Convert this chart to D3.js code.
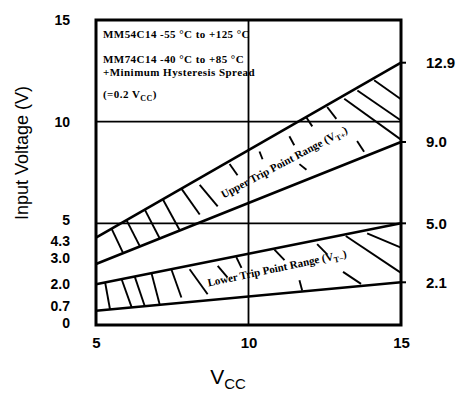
<!DOCTYPE html>
<html>
<head>
<meta charset="utf-8">
<script src="https://cdn.jsdelivr.net/npm/d3@7"></script>
<style>
  html, body { margin: 0; padding: 0; background: #fff; }
  svg { display: block; }
</style>
</head>
<body>
<svg id="chart" width="460" height="394"></svg>
<script>
// Supply voltage at the two ends of each trip-point band
const vcc = [5, 15];
// Upper trip point range V_T+ (max / min)
const upperMax = [4.3, 12.9];
const upperMin = [3.0, 9.0];
// Lower trip point range V_T- (max / min)
const lowerMax = [2.0, 5.0];
const lowerMin = [0.7, 2.1];

const xTicks = [5, 10, 15];
const yTicks = [0, 0.7, 2.0, 3.0, 4.3, 5, 10, 15];
const yTickLabels = ["0", "0.7", "2.0", "3.0", "4.3", "5", "10", "15"];
const rightLabels = [12.9, 9.0, 5.0, 2.1];
const gridX = [10];
const gridY = [5, 10];

// Hatch strokes: [Vcc start, band fraction start, Vcc end, band fraction end]
// band fraction 1 = upper edge of the band, 0 = lower edge
const upperHatch = [
  [5.51, 1, 5.89, 0], [6.0, 1, 6.44, 0], [6.6, 1, 7.09, 0], [7.19, 1, 7.75, 0],
  [7.8, 1, 8.4, 0.18], [8.4, 0.85, 8.99, 0.19], [9.38, 0.94, 9.64, 0.63],
  [10.36, 0.86, 10.46, 0.69], [11.34, 0.84, 11.5, 0.65], [11.67, 0.3, 11.9, 0.16],
  [11.9, 0.99, 12.09, 0.8], [12.58, 0.97, 12.88, 0.72], [13.56, 0.26, 13.79, 0.07],
  [13.14, 0.95, 15, 0.03], [13.57, 0.96, 15, 0.27], [14.12, 0.97, 15, 0.54]
];
const lowerHatch = [
  [5.3, 1, 5.46, 0], [5.84, 1, 6.17, 0], [6.27, 1, 6.6, 0], [6.82, 1, 7.09, 0],
  [7.47, 1, 7.8, 0.15], [8.07, 0.9, 8.66, 0.16], [8.99, 0.85, 9.31, 0.52],
  [9.6, 0.98, 9.77, 0.7], [10.85, 0.98, 11.18, 0.71], [11.67, 0.24, 11.76, 0.02],
  [12.25, 0.92, 12.58, 0.68], [13.1, 0.3, 13.69, 0.04],
  [13.19, 0.97, 15, 0.16], [13.89, 0.94, 15, 0.59]
];

const legendLines = [
  "MM54C14 -55 °C to +125 °C",
  "MM74C14 -40 °C to +85 °C",
  "+Minimum Hysteresis Spread"
];

const svg = d3.select("#chart");
const x = d3.scaleLinear().domain([5, 15]).range([96, 401]);
const y = d3.scaleLinear().domain([0, 15]).range([325, 20]);

const sans = "'Liberation Sans', Arial, sans-serif";
const serif = "'Liberation Serif', 'Times New Roman', serif";

// Grid lines
svg.append("g").selectAll("line").data(gridY).join("line")
  .attr("x1", x(5)).attr("x2", x(15))
  .attr("y1", d => y(d)).attr("y2", d => y(d))
  .attr("stroke", "#000").attr("stroke-width", 1.6);
svg.append("g").selectAll("line").data(gridX).join("line")
  .attr("x1", d => x(d)).attr("x2", d => x(d))
  .attr("y1", y(0)).attr("y2", y(15))
  .attr("stroke", "#000").attr("stroke-width", 1.8);

// Frame
svg.append("rect")
  .attr("x", x(5)).attr("y", y(15))
  .attr("width", x(15) - x(5)).attr("height", y(0) - y(15))
  .attr("fill", "none").attr("stroke", "#000").attr("stroke-width", 3);

// Band boundary lines and hatching
const bands = [
  { top: upperMax, bot: upperMin, hatch: upperHatch },
  { top: lowerMax, bot: lowerMin, hatch: lowerHatch }
];
const line = d3.line().x(d => x(d[0])).y(d => y(d[1]));
bands.forEach(b => {
  [b.top, b.bot].forEach(vals => {
    svg.append("path")
      .attr("d", line(vcc.map((v, i) => [v, vals[i]])))
      .attr("fill", "none").attr("stroke", "#000").attr("stroke-width", 2.6);
  });
  const topAt = d3.scaleLinear().domain(vcc).range(b.top);
  const botAt = d3.scaleLinear().domain(vcc).range(b.bot);
  const pt = (v, t) => [x(v), y(botAt(v) + t * (topAt(v) - botAt(v)))];
  svg.append("g").selectAll("line").data(b.hatch).join("line")
    .attr("x1", d => pt(d[0], d[1])[0]).attr("y1", d => pt(d[0], d[1])[1])
    .attr("x2", d => pt(d[2], d[3])[0]).attr("y2", d => pt(d[2], d[3])[1])
    .attr("stroke", "#000").attr("stroke-width", 1.9);
});

// Short end ticks to the right of the frame
svg.append("g").selectAll("line").data(rightLabels).join("line")
  .attr("x1", x(15)).attr("x2", x(15) + 5)
  .attr("y1", d => y(d)).attr("y2", d => y(d))
  .attr("stroke", "#000").attr("stroke-width", 2);

// Left axis labels (closely spaced ones are nudged apart a little)
const labelShift = { 5: -3, 4.3: 3, 3: -6, 0.7: -5, 0: -2 };
const yAxis = d3.axisLeft(y).tickValues(yTicks).tickSize(0).tickPadding(26)
  .tickFormat((d, i) => yTickLabels[i]);
const gy = svg.append("g").attr("transform", `translate(${x(5)},0)`).call(yAxis);
gy.select(".domain").remove();
gy.selectAll("text").attr("font-family", sans).attr("font-size", 14)
  .attr("font-weight", "bold").attr("fill", "#000")
  .attr("y", d => labelShift[d] || 0);

// Bottom axis labels
const xAxis = d3.axisBottom(x).tickValues(xTicks).tickSize(0).tickPadding(12)
  .tickFormat(d3.format("d"));
const gx = svg.append("g").attr("transform", `translate(0,${y(0)})`).call(xAxis);
gx.select(".domain").remove();
gx.selectAll("text").attr("font-family", sans).attr("font-size", 15)
  .attr("font-weight", "bold").attr("fill", "#000");

// Right-hand end values
svg.append("g").selectAll("text").data(rightLabels).join("text")
  .attr("x", 426).attr("y", d => y(d)).attr("dy", "0.36em")
  .attr("font-family", sans).attr("font-size", 15).attr("font-weight", "bold")
  .text(d => d.toFixed(1));

// Axis titles
svg.append("text")
  .attr("transform", "translate(28,153) rotate(-90)")
  .attr("text-anchor", "middle")
  .attr("font-family", sans).attr("font-size", 18)
  .text("Input Voltage (V)");
const xt = svg.append("text")
  .attr("x", 228).attr("y", 384).attr("text-anchor", "middle")
  .attr("font-family", sans).attr("font-size", 21);
xt.append("tspan").text("V");
xt.append("tspan").attr("font-size", 15).attr("dy", 5).text("CC");

// Notes in the upper left corner
const notes = svg.append("g")
  .attr("font-family", serif).attr("font-size", 11).attr("font-weight", "bold")
  .attr("letter-spacing", 0.45);
notes.selectAll("text").data(legendLines).join("text")
  .attr("x", 103).attr("y", (d, i) => [38, 63, 76][i]).text(d => d);
const n4 = notes.append("text").attr("x", 103).attr("y", 98);
n4.append("tspan").text("(=0.2 V");
n4.append("tspan").attr("font-size", 8).attr("dy", 3).text("CC");
n4.append("tspan").attr("dy", -3).text(")");

// Band captions
function caption(cx, cy, angle, main, sub) {
  const t = svg.append("text")
    .attr("transform", `translate(${cx},${cy}) rotate(${angle})`)
    .attr("text-anchor", "middle").attr("dy", "0.35em")
    .attr("font-family", serif).attr("font-size", 11).attr("font-weight", "bold");
  t.append("tspan").text(main);
  t.append("tspan").attr("font-size", 8).attr("dy", 3).text(sub);
  t.append("tspan").attr("dy", -3).text(")");
}
caption(284, 162, -28, "Upper Trip Point Range (V", "T+");
caption(277, 268, -12, "Lower Trip Point Range (V", "T−");
</script>
</body>
</html>
